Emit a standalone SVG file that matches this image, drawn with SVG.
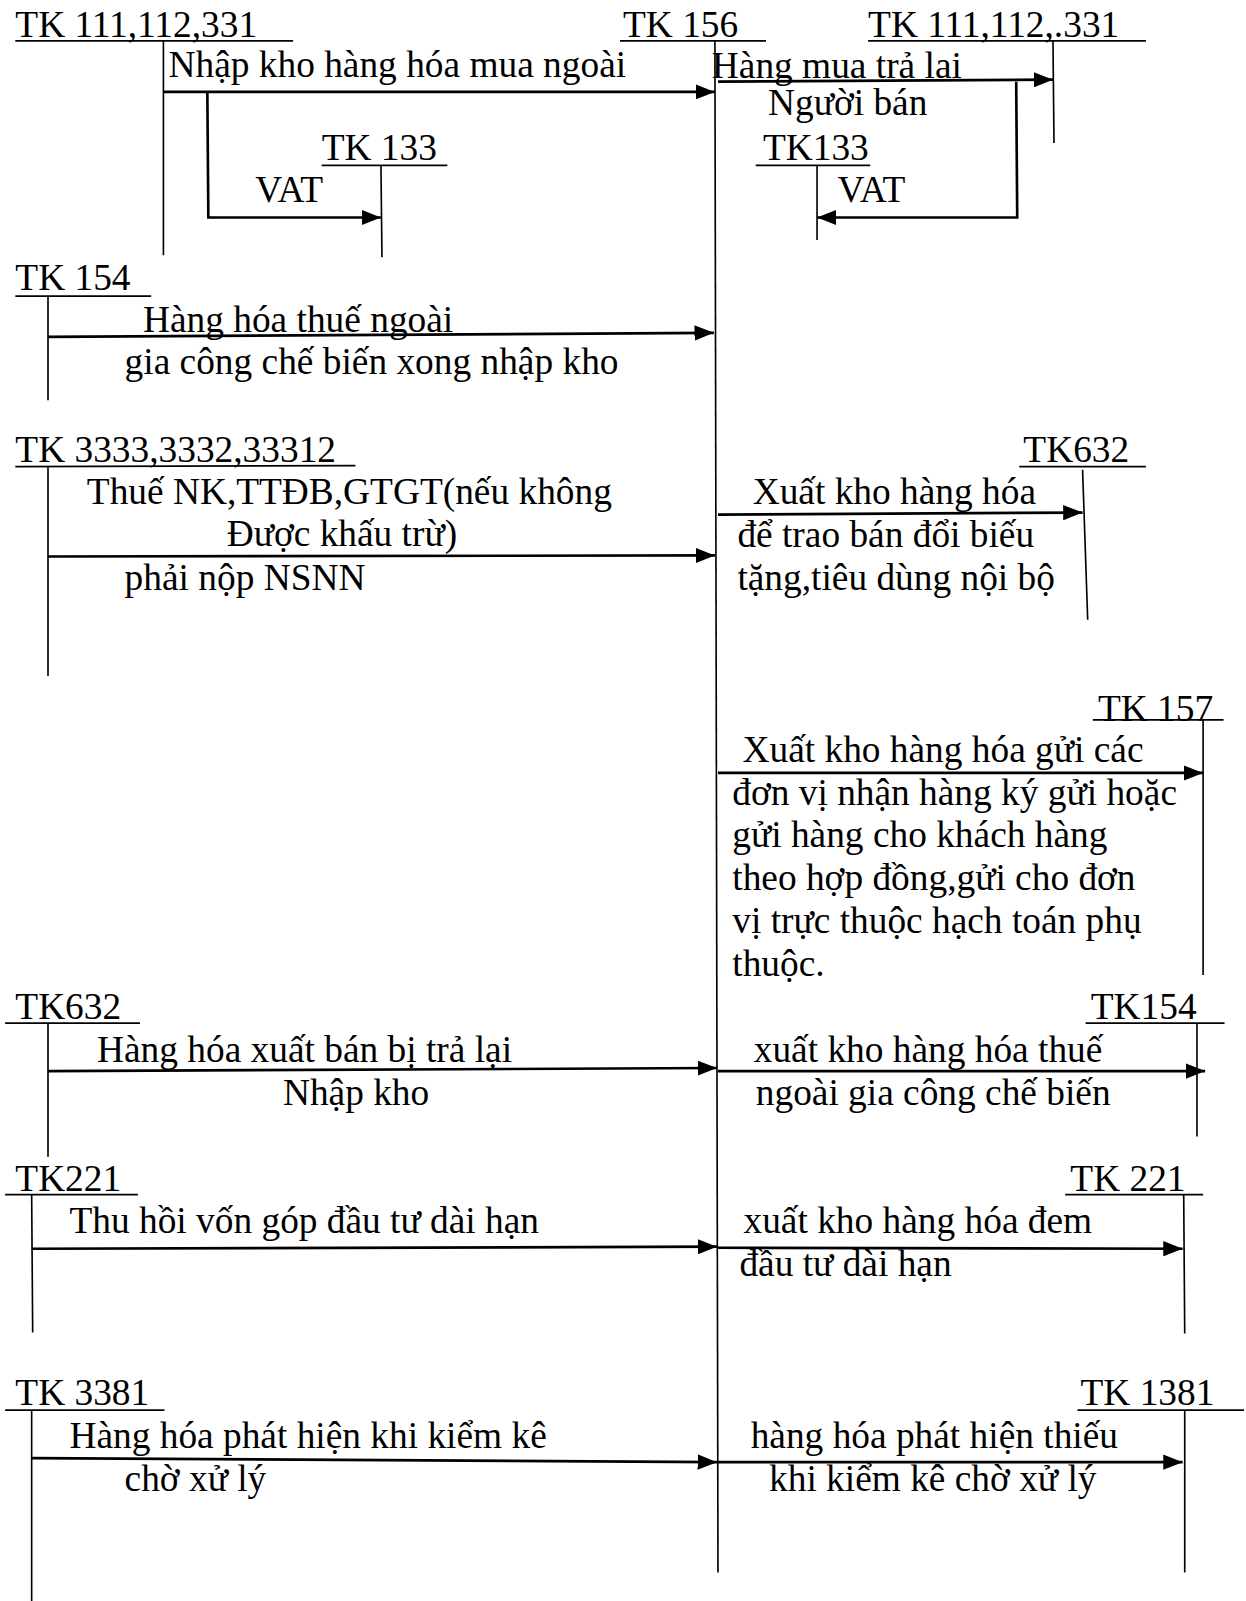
<svg xmlns="http://www.w3.org/2000/svg" width="1246" height="1601" viewBox="0 0 1246 1601">
<style>
text{font-family:"Liberation Serif","Times New Roman",serif;font-size:36.6px;fill:#000}
.ac line{stroke:#000;stroke-width:1.6}
.cn line,.cn polyline{stroke:#000;stroke-width:2.6;fill:none}
</style>
<defs>
<marker id="ah" markerUnits="userSpaceOnUse" markerWidth="20" markerHeight="15" refX="19" refY="7.5" orient="auto">
<path d="M0,0 L19,7.5 L0,15 z" fill="#000"/>
</marker>
</defs>
<rect width="1246" height="1601" fill="#fff"/>
<g transform="scale(1.02131,1.02105)">
<g id="tk111-left" class="ac"><text x="15" y="36">TK 111,112,331</text><line x1="15" y1="40" x2="287" y2="40"/><line x1="160" y1="40" x2="160" y2="250"/></g>
<g id="tk133-left" class="ac"><text x="315" y="157">TK 133</text><line x1="315" y1="162" x2="438" y2="162"/><line x1="373" y1="162" x2="374" y2="252"/></g>
<g id="tk156" class="ac"><text x="610" y="36">TK 156</text><line x1="607" y1="40" x2="750" y2="40"/><line x1="700" y1="40" x2="703" y2="1540"/></g>
<g id="tk111-right" class="ac"><text x="850" y="36">TK 111,112,.331</text><line x1="850" y1="40" x2="1122" y2="40"/><line x1="1031" y1="40" x2="1032" y2="140"/></g>
<g id="tk133-right" class="ac"><text x="747" y="157">TK133</text><line x1="740" y1="162" x2="852" y2="162"/><line x1="800" y1="162" x2="800" y2="235"/></g>
<g id="tk154-left" class="ac"><text x="15" y="284">TK 154</text><line x1="15" y1="290" x2="148" y2="290"/><line x1="47" y1="290" x2="47" y2="392"/></g>
<g id="tk3333" class="ac"><text x="15" y="452">TK 3333,3332,33312</text><line x1="15" y1="457" x2="348" y2="456"/><line x1="47" y1="457" x2="47" y2="662"/></g>
<g id="tk632-right" class="ac"><text x="1002" y="452">TK632</text><line x1="998" y1="457" x2="1122" y2="457"/><line x1="1060" y1="460" x2="1065" y2="607"/></g>
<g id="tk157" class="ac"><text x="1075" y="706">TK 157</text><line x1="1070" y1="705" x2="1198" y2="705"/><line x1="1178" y1="705" x2="1178" y2="955"/></g>
<g id="tk632-left" class="ac"><text x="15" y="998">TK632</text><line x1="5" y1="1002" x2="137" y2="1002"/><line x1="47" y1="1002" x2="47" y2="1133"/></g>
<g id="tk154-right" class="ac"><text x="1068" y="998">TK154</text><line x1="1063" y1="1002" x2="1199" y2="1002"/><line x1="1172" y1="1002" x2="1172" y2="1113"/></g>
<g id="tk221-left" class="ac"><text x="15" y="1166">TK221</text><line x1="5" y1="1170" x2="135" y2="1170"/><line x1="31" y1="1170" x2="32" y2="1305"/></g>
<g id="tk221-right" class="ac"><text x="1048" y="1166">TK 221</text><line x1="1043" y1="1170" x2="1178" y2="1170"/><line x1="1159" y1="1170" x2="1160" y2="1306"/></g>
<g id="tk3381" class="ac"><text x="15" y="1376">TK 3381</text><line x1="5" y1="1381" x2="161" y2="1381"/><line x1="31" y1="1381" x2="31" y2="1568"/></g>
<g id="tk1381" class="ac"><text x="1058" y="1376">TK 1381</text><line x1="1055" y1="1381" x2="1218" y2="1381"/><line x1="1160" y1="1381" x2="1160" y2="1540"/></g>
<g id="connectors" class="cn">
<line x1="160" y1="90" x2="700" y2="90" marker-end="url(#ah)"/>
<polyline points="203,90 204,213 373,213" marker-end="url(#ah)"/>
<line x1="703" y1="80" x2="1031" y2="78" marker-end="url(#ah)"/>
<polyline points="995,80 996,213 800,213" marker-end="url(#ah)"/>
<line x1="47" y1="330" x2="699" y2="326" marker-end="url(#ah)"/>
<line x1="47" y1="545" x2="700" y2="544" marker-end="url(#ah)"/>
<line x1="703" y1="504" x2="1060" y2="502" marker-end="url(#ah)"/>
<line x1="703" y1="757" x2="1178" y2="757" marker-end="url(#ah)"/>
<line x1="47" y1="1049" x2="702" y2="1046" marker-end="url(#ah)"/>
<line x1="703" y1="1049" x2="1180" y2="1049" marker-end="url(#ah)"/>
<line x1="31" y1="1223" x2="702" y2="1221" marker-end="url(#ah)"/>
<line x1="703" y1="1222" x2="1158" y2="1223" marker-end="url(#ah)"/>
<line x1="31" y1="1428" x2="702" y2="1432" marker-end="url(#ah)"/>
<line x1="703" y1="1432" x2="1158" y2="1432" marker-end="url(#ah)"/>
</g>
<g id="labels">
<text x="165" y="75">Nhập kho hàng hóa mua ngoài</text>
<text x="250" y="198">VAT</text>
<text x="697" y="76">Hàng mua trả lai</text>
<text x="752" y="113">Người bán</text>
<text x="820" y="198">VAT</text>
<text x="140" y="325">Hàng hóa thuế ngoài</text>
<text x="122" y="366">gia công chế biến xong nhập kho</text>
<text x="85" y="494">Thuế NK,TTĐB,GTGT(nếu không</text>
<text x="222" y="535">Được khấu trừ)</text>
<text x="122" y="578">phải nộp NSNN</text>
<text x="737" y="494">Xuất kho hàng hóa</text>
<text x="722" y="536">để trao bán đổi biếu</text>
<text x="722" y="578">tặng,tiêu dùng nội bộ</text>
<text x="727" y="746">Xuất kho hàng hóa gửi các</text>
<text x="717" y="788">đơn vị nhận hàng ký gửi hoặc</text>
<text x="717" y="830">gửi hàng cho khách hàng</text>
<text x="717" y="872">theo hợp đồng,gửi cho đơn</text>
<text x="717" y="914">vị trực thuộc hạch toán phụ</text>
<text x="717" y="956">thuộc.</text>
<text x="95" y="1040">Hàng hóa xuất bán bị trả lại</text>
<text x="277" y="1082">Nhập kho</text>
<text x="738" y="1040">xuất kho hàng hóa thuế</text>
<text x="740" y="1082">ngoài gia công chế biến</text>
<text x="68" y="1208">Thu hồi vốn góp đầu tư dài hạn</text>
<text x="728" y="1208">xuất kho hàng hóa đem</text>
<text x="724" y="1250">đầu tư dài hạn</text>
<text x="68" y="1418">Hàng hóa phát hiện khi kiểm kê</text>
<text x="122" y="1460">chờ xử lý</text>
<text x="735" y="1418">hàng hóa phát hiện thiếu</text>
<text x="753" y="1460">khi kiểm kê chờ xử lý</text>
</g>
</g>
</svg>
